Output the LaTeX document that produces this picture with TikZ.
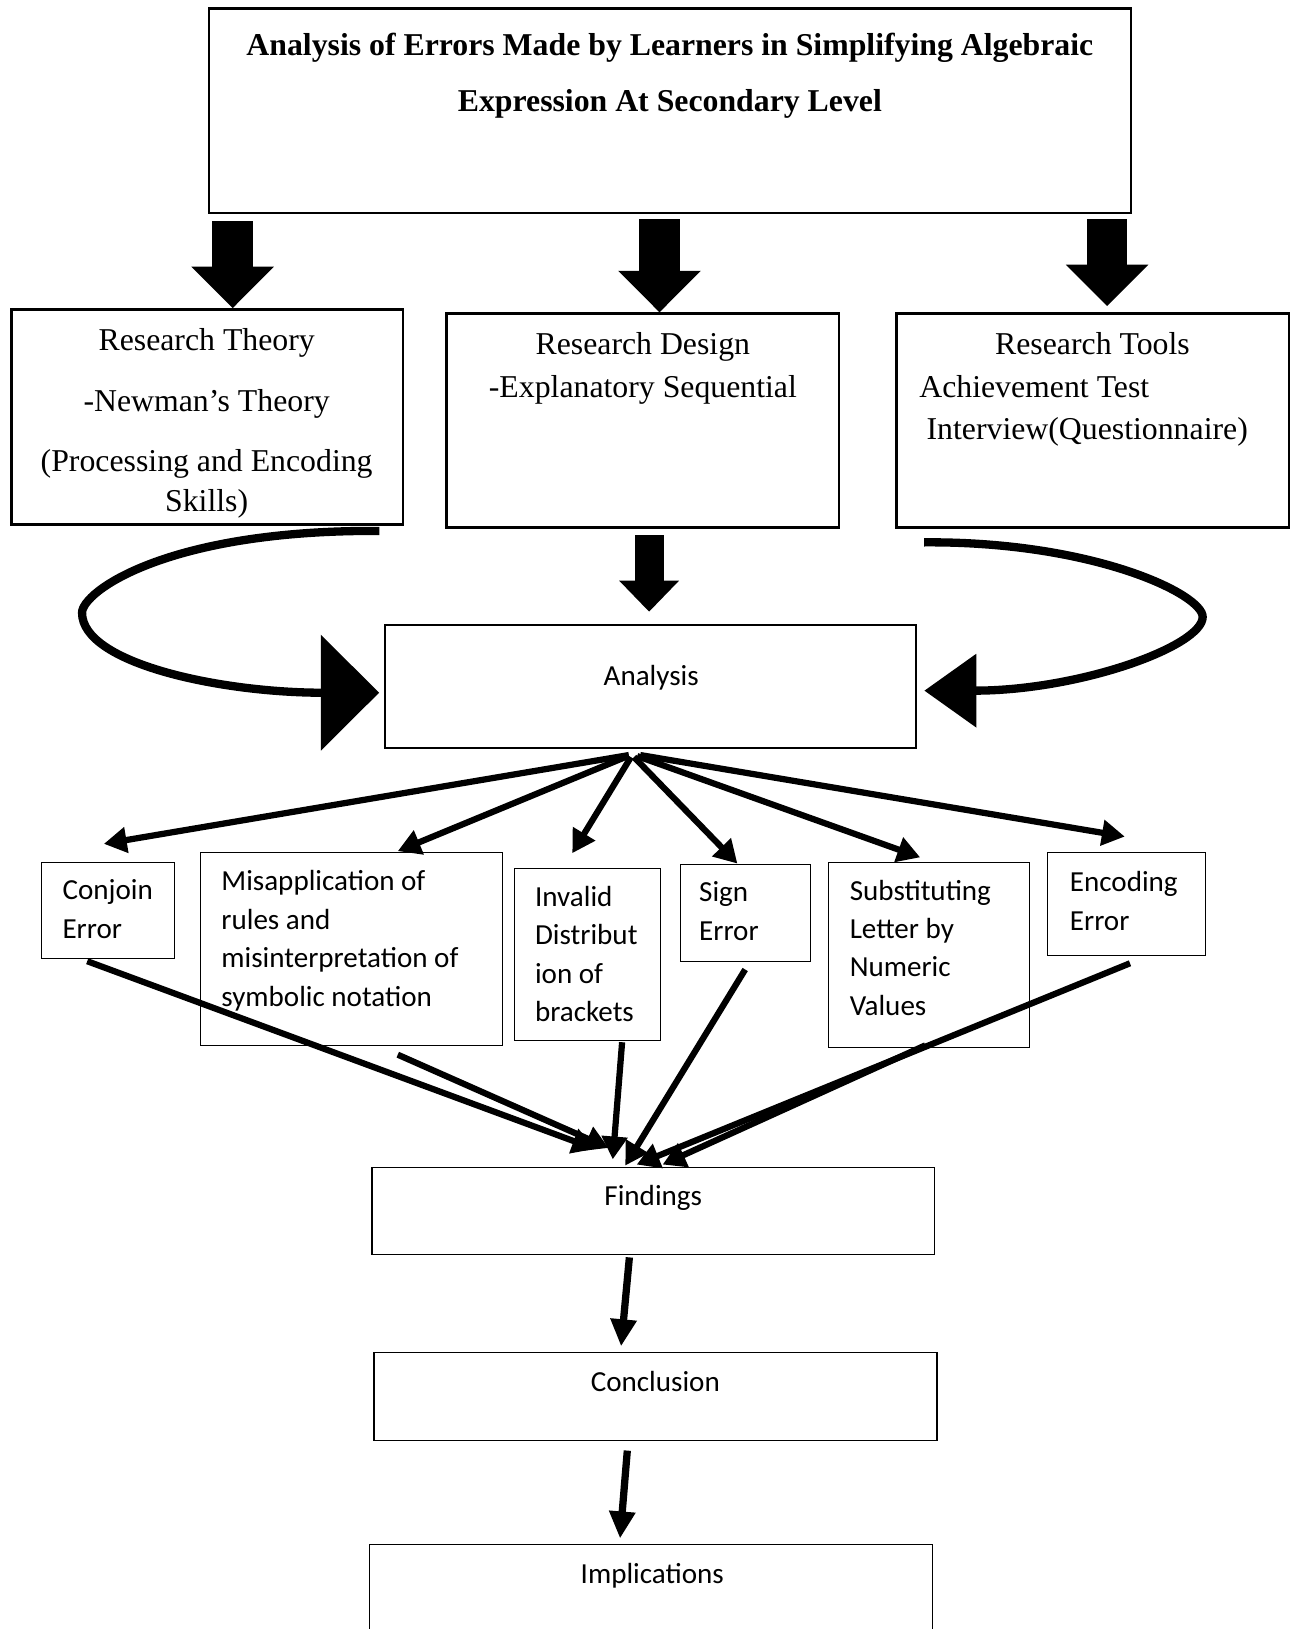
\documentclass[tikz,border=0pt]{standalone}
\usepackage{fontspec}
\setmainfont{Liberation Serif}
\newfontfamily\calibri{Carlito}
\usetikzlibrary{arrows.meta, calc}

\begin{document}
\begin{tikzpicture}[x=1pt, y=-1pt,
  thinbox/.style={draw, line width=1pt, inner sep=0},
  midbox/.style={draw, line width=1.4pt, inner sep=0},
  heavybox/.style={draw, line width=2.4pt, inner sep=0},
  serif/.style={inner sep=0, font=\fontsize{30.6}{41}\selectfont},
  titletxt/.style={inner sep=0, align=center, font=\bfseries\fontsize{30.6}{54}\selectfont},
  sans/.style={inner sep=0, align=left, font=\calibri\fontsize{28}{37}\selectfont},
  bigdown/.style={line width=39pt, -{Triangle[length=40pt,width=77pt]}},
  middown/.style={line width=28pt, -{Triangle[length=30pt,width=56pt]}},
  loopline/.style={line width=8pt},
  fanline/.style={line width=6pt, -{Triangle[length=22pt,width=24pt]}},
  stepline/.style={line width=7pt, -{Triangle[length=26pt,width=24pt]}}]
\useasboundingbox (0,0) rectangle (1243,1568.5);
% title and the three research boxes
\node[heavybox, minimum width=888, minimum height=197] (title) at (645,106.5) {};
\node[titletxt, anchor=north] (titletext) at (645,32) {Analysis of Errors Made by Learners in Simplifying Algebraic\\Expression At Secondary Level};
\node[heavybox, minimum width=377, minimum height=207] (theory) at (199.5,401.5) {};
\node[heavybox, minimum width=378, minimum height=206] (design) at (619,405) {};
\node[heavybox, minimum width=378, minimum height=206] (tools) at (1052,405) {};
\node[serif, align=center, anchor=north, font=\fontsize{30.6}{38}\selectfont] (theorytext) at (199,316) {Research Theory\\[21pt]-Newman’s Theory\\[20pt](Processing and Encoding\\Skills)};
\node[serif, align=center, anchor=north] (designtext) at (619,320) {Research Design\\-Explanatory Sequential};
\node[serif, align=left, anchor=north west] (toolstext) at (885,320) {\hspace*{73pt}Research Tools\\Achievement Test\\\hspace*{7pt}Interview(Questionnaire)};
% analysis
\node[heavybox, line width=2pt, minimum width=511, minimum height=118] (analysis) at (626.5,661) {};
\node[sans, anchor=north] (analysistext) at (627,640) {Analysis};
% error boxes, left to right
\node[thinbox, minimum width=128, minimum height=93] (conjoin) at (104,876.5) {};
\node[thinbox, minimum width=291, minimum height=186] (misapp) at (338.5,914) {};
\node[thinbox, minimum width=141, minimum height=166] (invalid) at (565.5,919) {};
\node[thinbox, minimum width=125, minimum height=94] (sign) at (717.5,879) {};
\node[thinbox, minimum width=193, minimum height=179] (subst) at (894.5,919.5) {};
\node[thinbox, minimum width=152, minimum height=99] (encoding) at (1085,870.5) {};
\node[sans, anchor=north west] (conjointext) at (60,847) {Conjoin\\Error};
\node[sans, anchor=north west] (misapptext) at (213,838) {Misapplication of\\rules and\\misinterpretation of\\symbolic notation};
\node[sans, anchor=north west] (invalidtext) at (515,853) {Invalid\\Distribut\\ion of\\brackets};
\node[sans, anchor=north west] (signtext) at (673,849) {Sign\\Error};
\node[sans, anchor=north west] (substtext) at (818,847) {Substituting\\Letter by\\Numeric\\Values};
\node[sans, anchor=north west] (encodingtext) at (1030,839) {Encoding\\Error};
% findings, conclusion, implications
\node[midbox, minimum width=542, minimum height=84] (findings) at (629,1166) {};
\node[midbox, minimum width=542, minimum height=85] (conclusion) at (631,1344.5) {};
\node[midbox, minimum width=542, minimum height=120] (implications) at (627,1547) {};
\node[sans, anchor=north] (findingstext) at (629,1141) {Findings};
\node[sans, anchor=north] (conclusiontext) at (631,1320) {Conclusion};
\node[sans, anchor=north] (implicationstext) at (628,1505) {Implications};
% block arrows
\draw[bigdown] ($(theory.north |- title.south)+(24.5,7)$) -- ($(theory.north)+(24.5,0)$);
\draw[bigdown] ($(design.north |- title.south)+(16,5)$) -- ($(design.north)+(16,0)$);
\draw[bigdown] ($(tools.north |- title.south)+(14,5)$) -- ($(tools.north)+(14,-6)$);
\draw[middown] ($(design.south)+(6,6)$) -- ($(analysis.north)+(-1.5,-12)$);
% curved arrows into analysis
\draw[loopline, -{Triangle[length=56pt,width=110pt]}] ($(theory.south east)+(-24,5)$)
  .. controls (160,510) and (79,570) .. (79,590)
  .. controls (79,639) and (213,667) .. ($(analysis.west)+(-5,6)$);
\draw[loopline, -{Triangle[length=50pt,width=69pt]}] ($(tools.south west)+(28,13)$)
  .. controls (1052,521) and (1158,572) .. (1158,594)
  .. controls (1158,622) and (1040,665) .. ($(analysis.east)+(7,4)$);
% analysis to errors
\draw[fanline] ($(analysis.south)+(-21,6)$) -- ($(conjoin.north)+(-4,-17)$);
\draw[fanline] ($(analysis.south)+(-22,7)$) -- ($(misapp.north)+(44.5,-1)$);
\draw[fanline] ($(analysis.south)+(-19,8)$) -- ($(invalid.north)+(-14.5,-14)$);
\draw[fanline] ($(analysis.south)+(-16,8)$) -- ($(sign.north)+(-7.5,0)$);
\draw[fanline] ($(analysis.south)+(-13,7)$) -- ($(subst.north)+(-8.5,-4)$);
\draw[fanline] ($(analysis.south)+(-10,6)$) -- ($(encoding.north)+(-2,-15)$);
% errors to findings
\draw[fanline] ($(conjoin.south)+(-20,2)$) -- ($(findings.north)+(-56,-17)$);
\draw[fanline] ($(misapp.south)+(44.5,8)$) -- ($(findings.north)+(-43,-18)$);
\draw[fanline] ($(invalid.south)+(33.5,1)$) -- ($(findings.north)+(-39,-7)$);
\draw[fanline] ($(sign.south)+(0,7)$) -- ($(findings.north)+(-27,-1)$);
\draw[fanline] ($(subst.south)+(-3.5,-3)$) -- ($(findings.north)+(9,-2)$);
\draw[fanline] ($(encoding.south)+(3,7)$) -- ($(findings.north)+(-16,-2)$);
% down the chain
\draw[stepline] ($(findings.south)+(-23,2)$) -- ($(conclusion.north)+(-33,-5)$);
\draw[stepline] ($(conclusion.south)+(-27,9)$) -- ($(implications.north)+(-30,-5)$);
\end{tikzpicture}
\end{document}
